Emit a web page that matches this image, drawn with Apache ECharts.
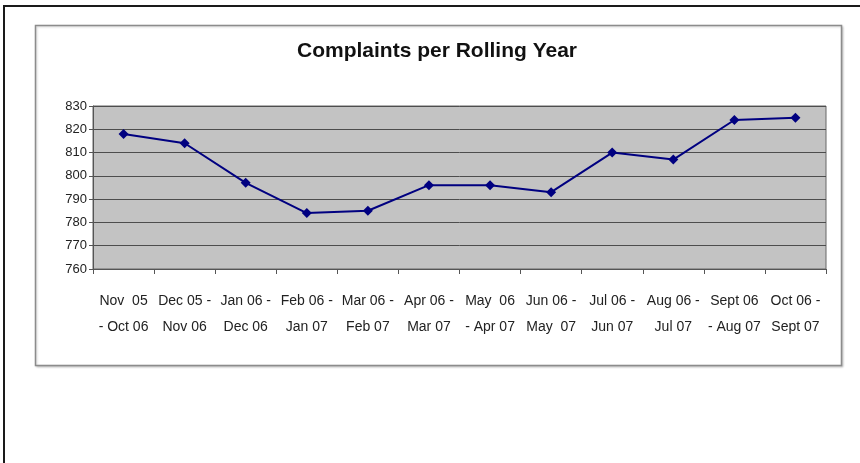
<!DOCTYPE html>
<html>
<head>
<meta charset="utf-8">
<style>
  html, body { margin: 0; padding: 0; background: #ffffff; }
  #chart { width: 860px; height: 463px; }
</style>
<script src="https://cdn.jsdelivr.net/npm/echarts@6/dist/echarts.min.js"></script>
</head>
<body>
<div id="chart"></div>
<script>
// Rolling twelve-month periods (two-line labels)
const periods = [
  'Nov  05\n- Oct 06', 'Dec 05 -\nNov 06', 'Jan 06 -\nDec 06', 'Feb 06 -\nJan 07',
  'Mar 06 -\nFeb 07', 'Apr 06 -\nMar 07', 'May  06\n- Apr 07', 'Jun 06 -\nMay  07',
  'Jul 06 -\nJun 07', 'Aug 06 -\nJul 07', 'Sept 06\n- Aug 07', 'Oct 06 -\nSept 07'
];
// Complaints counted over each rolling year
const complaints = [818, 814, 797, 784, 785, 796, 796, 793, 810, 807, 824, 825];
// Value axis range
const yMin = 760;
const yMax = 830;
const yStep = 10;

const chart = echarts.init(document.getElementById('chart'), null, { renderer: 'canvas' });

chart.setOption({
  backgroundColor: '#ffffff',
  animation: false,
  title: {
    text: 'Complaints per Rolling Year',
    left: 432,
    top: 36,
    textAlign: 'center',
    textStyle: {
      fontFamily: 'Liberation Sans, Arial, sans-serif',
      fontSize: 21,
      fontWeight: 'bold',
      color: '#111111'
    }
  },
  graphic: [
    // outer frame, top and left edges
    { type: 'rect', shape: { x: 4, y: 6, width: 870, height: 470 }, silent: true, z: -10,
      style: { fill: 'none', stroke: '#1a1a1a', lineWidth: 2 } },
    // chart area box
    { type: 'rect', shape: { x: 35.5, y: 25.5, width: 806, height: 340 }, silent: true, z: -9,
      style: { fill: '#ffffff', stroke: '#8c8c8c', lineWidth: 1.5,
               shadowColor: 'rgba(0,0,0,0.18)', shadowBlur: 2, shadowOffsetX: 1, shadowOffsetY: 1 } }
  ],
  grid: {
    left: 93,
    right: 34,
    top: 106,
    bottom: 194,
    show: true,
    backgroundColor: '#c3c3c3',
    borderColor: '#666666',
    borderWidth: 1
  },
  xAxis: {
    type: 'category',
    data: periods,
    boundaryGap: true,
    axisLine: { show: true, lineStyle: { color: '#555555', width: 1 } },
    axisTick: { show: true, alignWithLabel: false, interval: 0, length: 5, lineStyle: { color: '#555555' } },
    axisLabel: {
      interval: 0,
      margin: 19,
      lineHeight: 26,
      fontFamily: 'Liberation Sans, Arial, sans-serif',
      fontSize: 14,
      color: '#222222'
    },
    splitLine: { show: false }
  },
  yAxis: {
    type: 'value',
    min: yMin,
    max: yMax,
    interval: yStep,
    axisLine: { show: true, lineStyle: { color: '#555555', width: 1 } },
    axisTick: { show: true, length: 4, lineStyle: { color: '#555555' } },
    axisLabel: {
      margin: 6,
      fontFamily: 'Liberation Sans, Arial, sans-serif',
      fontSize: 13,
      color: '#222222'
    },
    splitLine: { show: true, lineStyle: { color: '#4d4d4d', width: 1 } }
  },
  series: [{
    type: 'line',
    data: complaints,
    symbol: 'diamond',
    symbolSize: 10,
    lineStyle: { color: '#000080', width: 2 },
    itemStyle: { color: '#000080' },
    z: 5
  }]
});
</script>
</body>
</html>
